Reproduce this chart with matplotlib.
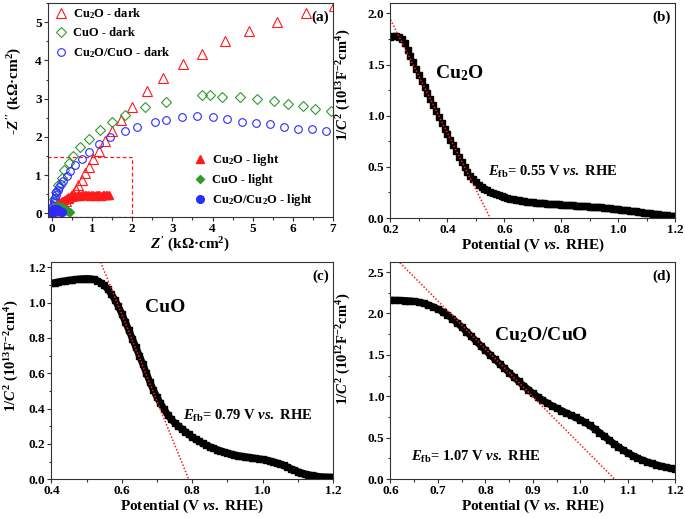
import numpy as np
import matplotlib
matplotlib.use("Agg")
import matplotlib.pyplot as plt
from matplotlib.lines import Line2D
from matplotlib.patches import Rectangle
from matplotlib.ticker import MultipleLocator, AutoMinorLocator

plt.rcParams['font.family'] = ['Liberation Serif', 'DejaVu Serif']
plt.rcParams['font.weight'] = 'bold'
plt.rcParams['axes.labelweight'] = 'bold'
plt.rcParams['mathtext.fontset'] = 'custom'
plt.rcParams['mathtext.rm'] = 'Liberation Serif:bold'
plt.rcParams['mathtext.it'] = 'Liberation Serif:italic:bold'
plt.rcParams['mathtext.bf'] = 'Liberation Serif:bold'

# (a) Nyquist plots, Z' and -Z'' in kOhm cm2
cu2o_dark_x = [0.03, 0.08, 0.14, 0.20, 0.27, 0.34, 0.41, 0.47, 0.53, 0.59, 0.66, 0.74, 0.82, 0.92, 1.03,
               1.16, 1.32, 1.49, 1.72, 2.00, 2.36, 2.76, 3.26, 3.74, 4.31, 4.92, 5.61, 6.32, 7.02]
cu2o_dark_y = [0.03, 0.09, 0.15, 0.21, 0.27, 0.33, 0.39, 0.44, 0.50, 0.60, 0.73, 0.88, 1.05, 1.22, 1.42,
               1.64, 1.90, 2.14, 2.44, 2.77, 3.20, 3.55, 3.91, 4.17, 4.50, 4.78, 5.00, 5.23, 5.42]
cuo_dark_x = [0.01, 0.03, 0.06, 0.10, 0.16, 0.24, 0.31, 0.42, 0.53, 0.71, 0.92, 1.20, 1.49, 1.81, 2.32,
              2.85, 3.75, 3.95, 4.23, 4.68, 5.12, 5.53, 5.89, 6.25, 6.56, 6.95]
cuo_dark_y = [0.05, 0.20, 0.38, 0.56, 0.75, 0.93, 1.12, 1.31, 1.51, 1.73, 1.95, 2.18, 2.38, 2.58, 2.77,
              2.90, 3.09, 3.09, 3.05, 3.05, 3.00, 2.93, 2.86, 2.80, 2.73, 2.67]
het_dark_x = [0.00, 0.01, 0.02, 0.03, 0.04, 0.05, 0.07, 0.09, 0.11, 0.14, 0.17, 0.22, 0.28, 0.37, 0.45,
              0.57, 0.74, 0.92, 1.17, 1.45, 1.81, 2.11, 2.56, 2.85, 3.25, 3.62, 4.02, 4.37, 4.74, 5.08,
              5.43, 5.77, 6.12, 6.47, 6.84]
het_dark_y = [0.00, 0.06, 0.12, 0.19, 0.26, 0.33, 0.41, 0.49, 0.55, 0.61, 0.68, 0.76, 0.84, 0.97, 1.10,
              1.25, 1.42, 1.61, 1.81, 1.99, 2.14, 2.27, 2.40, 2.44, 2.51, 2.54, 2.51, 2.47, 2.40, 2.37,
              2.33, 2.27, 2.21, 2.20, 2.14]

cu2o_light_x = [0.00, 0.02, 0.04, 0.06, 0.08, 0.10, 0.13, 0.16, 0.19, 0.22, 0.26, 0.30, 0.34, 0.38, 0.42,
                0.46, 0.50, 0.54, 0.58, 0.62, 0.66, 0.70, 0.74, 0.78, 0.82, 0.86, 0.90, 0.94, 0.98, 1.02,
                1.06, 1.10, 1.14, 1.18, 1.22, 1.26, 1.30, 1.34, 1.38, 1.42]
cu2o_light_y = [0.00, 0.05, 0.09, 0.13, 0.16, 0.19, 0.22, 0.25, 0.27, 0.30, 0.32, 0.34, 0.37, 0.39, 0.41,
                0.42, 0.44, 0.45, 0.45, 0.46, 0.47, 0.46, 0.48, 0.47, 0.47, 0.48, 0.47, 0.46, 0.47, 0.47,
                0.46, 0.47, 0.48, 0.47, 0.46, 0.47, 0.48, 0.49, 0.47, 0.48]
cuo_light_x = [0.02, 0.04, 0.06, 0.08, 0.10, 0.12, 0.14, 0.16, 0.18, 0.20, 0.22, 0.24, 0.26, 0.28, 0.30,
               0.32, 0.34, 0.36, 0.38, 0.40, 0.42, 0.44]
cuo_light_y = [0.04, 0.08, 0.11, 0.14, 0.16, 0.17, 0.18, 0.18, 0.17, 0.17, 0.16, 0.15, 0.14, 0.13, 0.11,
               0.10, 0.09, 0.08, 0.07, 0.05, 0.04, 0.03]
het_light_x = [0.00, 0.01, 0.02, 0.03, 0.04, 0.06, 0.08, 0.10, 0.12, 0.14, 0.16, 0.18, 0.20, 0.22, 0.24]
het_light_y = [0.00, 0.03, 0.05, 0.07, 0.08, 0.09, 0.10, 0.10, 0.10, 0.09, 0.08, 0.07, 0.05, 0.04, 0.02]

# (b)-(d) Mott-Schottky, potential step 0.01 V
pot_b = np.round(np.arange(0.20, 1.2001, 0.01), 2)
ms_cu2o = [1.77, 1.78, 1.78, 1.77, 1.75, 1.71, 1.64, 1.58, 1.52, 1.46,
           1.40, 1.34, 1.28, 1.22, 1.16, 1.10, 1.045, 0.99, 0.93, 0.875,
           0.82, 0.765, 0.71, 0.655, 0.60, 0.55, 0.50, 0.455, 0.415, 0.38,
           0.35, 0.325, 0.305, 0.285, 0.27, 0.255, 0.243, 0.232, 0.222, 0.213,
           0.205, 0.198, 0.19, 0.184, 0.178, 0.173, 0.168, 0.164, 0.16, 0.157,
           0.154, 0.151, 0.148, 0.146, 0.144, 0.142, 0.14, 0.138, 0.136, 0.134,
           0.132, 0.13, 0.128, 0.126, 0.124, 0.122, 0.12, 0.118, 0.116, 0.114,
           0.112, 0.11, 0.108, 0.106, 0.104, 0.101, 0.098, 0.095, 0.092, 0.089,
           0.086, 0.083, 0.08, 0.077, 0.073, 0.069, 0.065, 0.061, 0.057, 0.053,
           0.049, 0.046, 0.043, 0.04, 0.037, 0.034, 0.031, 0.028, 0.025, 0.022, 0.02]

pot_c = np.round(np.arange(0.40, 1.2001, 0.01), 2)
ms_cuo = [1.110, 1.114, 1.118, 1.121, 1.124, 1.127, 1.130, 1.132, 1.134, 1.136,
          1.137, 1.136, 1.132, 1.125, 1.114, 1.098, 1.077, 1.050, 1.018, 0.980,
          0.938, 0.892, 0.845, 0.797, 0.748, 0.700, 0.652, 0.600, 0.550, 0.505,
          0.465, 0.430, 0.398, 0.366, 0.340, 0.320, 0.302, 0.286, 0.270, 0.254,
          0.239, 0.226, 0.214, 0.203, 0.193, 0.184, 0.176, 0.168, 0.161, 0.155,
          0.149, 0.143, 0.138, 0.134, 0.130, 0.127, 0.124, 0.121, 0.118, 0.115,
          0.112, 0.108, 0.104, 0.099, 0.093, 0.086, 0.078, 0.069, 0.060, 0.051,
          0.043, 0.036, 0.030, 0.025, 0.021, 0.018, 0.015, 0.013, 0.012, 0.011, 0.010]

pot_d = np.round(np.arange(0.60, 1.2001, 0.01), 2)
ms_het = [2.160, 2.159, 2.158, 2.156, 2.152, 2.146, 2.136, 2.122, 2.103, 2.080,
          2.052, 2.020, 1.982, 1.938, 1.889, 1.836, 1.781, 1.725, 1.668, 1.611,
          1.555, 1.500, 1.446, 1.392, 1.338, 1.285, 1.232, 1.180, 1.130, 1.082,
          1.036, 0.994, 0.955, 0.920, 0.887, 0.857, 0.828, 0.800, 0.772, 0.745,
          0.716, 0.684, 0.648, 0.607, 0.563, 0.518, 0.473, 0.430, 0.389, 0.351,
          0.316, 0.284, 0.256, 0.231, 0.209, 0.190, 0.173, 0.157, 0.143, 0.130, 0.118]

# flat-band potentials and slopes of the linear fits
efb = [0.55, 0.79, 1.072]
fit_slope = [-5.54, -4.92, -5.78]

RED = '#ff1a1a'
GREEN = '#2f9a2f'
BLUE = '#2a2aff'

fig = plt.figure(figsize=(6.85, 5.18), dpi=100)
ax_a = fig.add_axes([0.070, 0.581, 0.416, 0.413])
ax_b = fig.add_axes([0.570, 0.579, 0.416, 0.415])
ax_c = fig.add_axes([0.075, 0.075, 0.411, 0.419])
ax_d = fig.add_axes([0.570, 0.075, 0.416, 0.419])

for ax in (ax_a, ax_b, ax_c, ax_d):
    for s in ax.spines.values():
        s.set_linewidth(0.8)
        s.set_color('#333333')
    ax.tick_params(which='both', direction='out', labelsize=9.5, width=0.8, colors='#333333',
                   labelcolor='black', pad=1.5)
    ax.tick_params(which='major', length=3)
    ax.tick_params(which='minor', length=1.8)
    ax.xaxis.set_minor_locator(AutoMinorLocator(2))
    ax.yaxis.set_minor_locator(AutoMinorLocator(2))

# ---- (a)
ax = ax_a
ax.plot(cu2o_dark_x, cu2o_dark_y, '^', ms=6.5, mfc='none', mec=RED, mew=0.8, ls='none')
ax.plot(cuo_dark_x, cuo_dark_y, 'D', ms=5, mfc='none', mec=GREEN, mew=0.8, ls='none')
ax.plot(het_dark_x, het_dark_y, 'o', ms=5.5, mfc='none', mec=BLUE, mew=0.8, ls='none')
ax.plot(cu2o_light_x, cu2o_light_y, '^', ms=5.5, color=RED, ls='none')
ax.plot(cuo_light_x, cuo_light_y, 'D', ms=4.5, color=GREEN, ls='none')
ax.plot(het_light_x, het_light_y, 'o', ms=5.5, color=BLUE, ls='none')
ax.add_patch(Rectangle((-0.1, -0.1), 2.1, 1.58, fill=False, ec=RED, ls=(0, (3, 2)), lw=0.9))
ax.set_xlim(-0.1, 7)
ax.set_ylim(-0.1, 5.5)
ax.xaxis.set_major_locator(MultipleLocator(1))
ax.yaxis.set_major_locator(MultipleLocator(1))
ax.set_xlabel(r"$Z'$ (k$\Omega$·cm$^2$)", fontsize=11, labelpad=0)
ax.set_ylabel(r"-$Z''$ (k$\Omega$·cm$^2$)", fontsize=11, labelpad=3)
ax.yaxis.set_label_coords(-0.085, 0.59)
ax.text(0.985, 0.965, '(a)', transform=ax.transAxes, ha='right', va='top', fontsize=11)

dark_handles = [
    Line2D([], [], marker='^', ms=6.5, mfc='none', mec=RED, mew=0.8, ls='none'),
    Line2D([], [], marker='D', ms=5, mfc='none', mec=GREEN, mew=0.8, ls='none'),
    Line2D([], [], marker='o', ms=5.5, mfc='none', mec=BLUE, mew=0.8, ls='none'),
]
leg1 = ax.legend(dark_handles, [r'Cu$_2$O - dark', 'CuO - dark', r'Cu$_2$O/CuO - dark'],
                 loc='upper left', bbox_to_anchor=(0.019, 0.985), frameon=False, fontsize=9,
                 borderpad=0, borderaxespad=0, handletextpad=0.35, labelspacing=0.5,
                 handlelength=1.2)
ax.add_artist(leg1)
light_handles = [
    Line2D([], [], marker='^', ms=5.5, color=RED, ls='none'),
    Line2D([], [], marker='D', ms=4.5, color=GREEN, ls='none'),
    Line2D([], [], marker='o', ms=5.5, color=BLUE, ls='none'),
]
ax.legend(light_handles, [r'Cu$_2$O - light', 'CuO - light', r'Cu$_2$O/Cu$_2$O - light'],
          loc='lower left', bbox_to_anchor=(0.507, 0.04), frameon=False, fontsize=9,
          borderpad=0, borderaxespad=0, handletextpad=0.35, labelspacing=0.5, handlelength=1.2)

# ---- Mott-Schottky panels
ms_panels = [
    (ax_b, pot_b, ms_cu2o, (0.2, 1.2), (0.0, 2.1), 0.5, 0.2, '13', '(b)', r'Cu$_2$O', (0.44, 1.42),
     r'$E_{\rm fb}$= 0.55 V $vs.$ RHE', (0.542, 0.45), False, (-0.13, 0.62)),
    (ax_c, pot_c, ms_cuo, (0.4, 1.2), (0.0, 1.23), 0.2, 0.2, '13', '(c)', 'CuO', (0.722, 0.97),
     r'$E_{\rm fb}$= 0.79 V $vs.$ RHE', (0.775, 0.36), True, (-0.108, 0.57)),
    (ax_d, pot_d, ms_het, (0.6, 1.2), (0.0, 2.62), 0.5, 0.1, '12', '(d)', r'Cu$_2$O/CuO', (0.918, 1.74),
     r'$E_{\rm fb}$= 1.07 V $vs.$ RHE', (0.644, 0.27), True, (-0.13, 0.6)),
]
for i, (ax, xv, yv, xl, yl, ystep, xstep, exp, tag, name, name_xy, etxt, e_xy, dense, ylab_xy) in enumerate(ms_panels):
    if dense:
        ax.plot(xv, yv, 'k-', lw=5, solid_capstyle='butt')
    ax.plot(xv, yv, 's', color='black', ms=4.5, ls='none')
    fx = np.array(xl)
    ax.plot(fx, fit_slope[i] * (fx - efb[i]), ls=(0, (1, 1.2)), color=RED, lw=1.1)
    ax.set_xlim(*xl)
    ax.set_ylim(*yl)
    ax.xaxis.set_major_locator(MultipleLocator(xstep))
    ax.yaxis.set_major_locator(MultipleLocator(ystep))
    ax.xaxis.set_major_formatter(plt.FormatStrFormatter('%.1f'))
    ax.yaxis.set_major_formatter(plt.FormatStrFormatter('%.1f'))
    ax.set_xlabel(r'Potential (V $vs.$ RHE)', fontsize=11, labelpad=0)
    ax.set_ylabel(r'1/$C^2$ (10$^{%s}$F$^{-2}$cm$^{4}$)' % exp, fontsize=10.5, labelpad=3)
    ax.yaxis.set_label_coords(*ylab_xy)
    ax.text(0.985, 0.965, tag, transform=ax.transAxes, ha='right', va='top', fontsize=11)
    ax.text(name_xy[0], name_xy[1], name, ha='center', va='center', fontsize=14)
    ax.text(e_xy[0], e_xy[1], etxt, ha='left', va='center', fontsize=10.5)

fig.savefig('out.png', dpi=100)
